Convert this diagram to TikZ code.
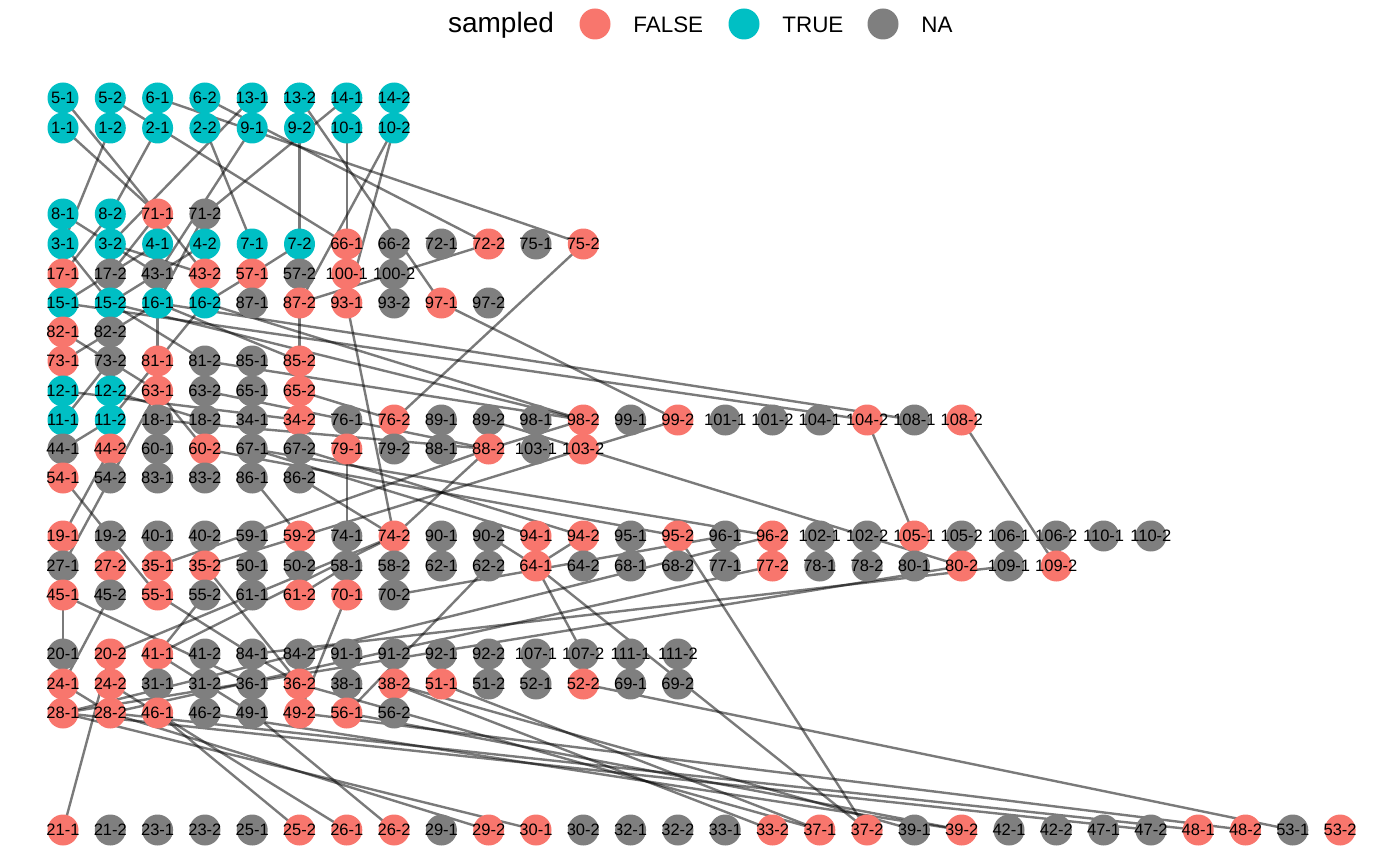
\documentclass[tikz,border=0pt]{standalone}
\usepackage{fontspec}
\setmainfont{Liberation Sans}
\definecolor{cT}{HTML}{00BFC4}
\definecolor{cF}{HTML}{F8766D}
\definecolor{cN}{HTML}{7F7F7F}
\pgfdeclarelayer{edges}
\pgfdeclarelayer{labels}
\pgfsetlayers{edges,main,labels}
\tikzset{
  dot/.style={circle,draw=none,minimum size=15.5pt,inner sep=0pt},
  lab/.style={font=\fontsize{8.25}{9}\selectfont,inner sep=0pt},
  edge/.style={draw=black,draw opacity=0.52,line width=1.2pt},
  legtitle/.style={font=\fontsize{14}{16}\selectfont,inner sep=0pt},
  legtext/.style={font=\fontsize{11.2}{13}\selectfont,inner sep=0pt,anchor=west},
}
\newcommand{\hrow}[2]{%
  \foreach \n/\c [count=\i from 0] in {#2} {%
    \node[dot,fill=c\c] (n\n) at ({63+47.3*\i},#1) {};
    \begin{pgfonlayer}{labels}\node[lab] (l\n) at (n\n) {\n};\end{pgfonlayer}
  }%
}
\begin{document}
\begin{tikzpicture}[x=0.5pt,y=-0.5pt]
\useasboundingbox (0,0) rectangle (1400,866);
% legend
\node[legtitle] (legt) at (501,25) {sampled};
\node[dot,fill=cF] (legF) at (595,24) {};
\node[legtext] (legFt) at (633,25) {FALSE};
\node[dot,fill=cT] (legT) at (744,24) {};
\node[legtext] (legTt) at (782,25) {TRUE};
\node[dot,fill=cN] (legN) at (883,24) {};
\node[legtext] (legNt) at (921,25) {NA};
% nodes
\hrow{98}{5-1/T,5-2/T,6-1/T,6-2/T,13-1/T,13-2/T,14-1/T,14-2/T}
\hrow{128}{1-1/T,1-2/T,2-1/T,2-2/T,9-1/T,9-2/T,10-1/T,10-2/T}
\hrow{214}{8-1/T,8-2/T,71-1/F,71-2/N}
\hrow{244}{3-1/T,3-2/T,4-1/T,4-2/T,7-1/T,7-2/T,66-1/F,66-2/N,72-1/N,72-2/F,75-1/N,75-2/F}
\hrow{274}{17-1/F,17-2/N,43-1/N,43-2/F,57-1/F,57-2/N,100-1/F,100-2/N}
\hrow{303}{15-1/T,15-2/T,16-1/T,16-2/T,87-1/N,87-2/F,93-1/F,93-2/N,97-1/F,97-2/N}
\hrow{332}{82-1/F,82-2/N}
\hrow{361}{73-1/F,73-2/N,81-1/F,81-2/N,85-1/N,85-2/F}
\hrow{391}{12-1/T,12-2/T,63-1/F,63-2/N,65-1/N,65-2/F}
\hrow{420}{11-1/T,11-2/T,18-1/N,18-2/N,34-1/N,34-2/F,76-1/N,76-2/F,89-1/N,89-2/N,98-1/N,98-2/F,99-1/N,99-2/F,101-1/N,101-2/N,104-1/N,104-2/F,108-1/N,108-2/F}
\hrow{449}{44-1/N,44-2/F,60-1/N,60-2/F,67-1/N,67-2/N,79-1/F,79-2/N,88-1/N,88-2/F,103-1/N,103-2/F}
\hrow{478}{54-1/F,54-2/N,83-1/N,83-2/N,86-1/N,86-2/N}
\hrow{536}{19-1/F,19-2/N,40-1/N,40-2/N,59-1/N,59-2/F,74-1/N,74-2/F,90-1/N,90-2/N,94-1/F,94-2/F,95-1/N,95-2/F,96-1/N,96-2/F,102-1/N,102-2/N,105-1/F,105-2/N,106-1/N,106-2/N,110-1/N,110-2/N}
\hrow{566}{27-1/N,27-2/F,35-1/F,35-2/F,50-1/N,50-2/N,58-1/N,58-2/N,62-1/N,62-2/N,64-1/F,64-2/N,68-1/N,68-2/N,77-1/N,77-2/F,78-1/N,78-2/N,80-1/N,80-2/F,109-1/N,109-2/F}
\hrow{595}{45-1/F,45-2/N,55-1/F,55-2/N,61-1/N,61-2/F,70-1/F,70-2/N}
\hrow{654}{20-1/N,20-2/F,41-1/F,41-2/N,84-1/N,84-2/N,91-1/N,91-2/N,92-1/N,92-2/N,107-1/N,107-2/N,111-1/N,111-2/N}
\hrow{684}{24-1/F,24-2/F,31-1/N,31-2/N,36-1/N,36-2/F,38-1/N,38-2/F,51-1/F,51-2/N,52-1/N,52-2/F,69-1/N,69-2/N}
\hrow{713}{28-1/F,28-2/F,46-1/F,46-2/N,49-1/N,49-2/F,56-1/F,56-2/N}
\hrow{830}{21-1/F,21-2/N,23-1/N,23-2/N,25-1/N,25-2/F,26-1/F,26-2/F,29-1/N,29-2/F,30-1/F,30-2/N,32-1/N,32-2/N,33-1/N,33-2/F,37-1/F,37-2/F,39-1/N,39-2/F,42-1/N,42-2/N,47-1/N,47-2/N,48-1/F,48-2/F,53-1/N,53-2/F}
% edges
\begin{pgfonlayer}{edges}
\foreach \a/\b in {5-1/71-1, 1-1/71-1, 5-2/66-1, 6-1/75-2, 6-2/72-2, 13-1/3-2, 13-2/97-1,
 14-1/71-2, 9-1/43-1, 9-2/7-2, 10-1/66-1, 10-2/87-2, 10-2/93-1, 2-2/7-1,
 2-1/8-2, 1-2/3-1,
 7-2/57-1, 72-2/87-2, 71-1/43-2, 8-1/43-1, 8-2/17-1, 71-2/16-1, 71-1/17-2,
 3-1/15-2, 4-2/15-2, 57-1/16-2, 3-2/43-2, 4-1/15-1,
 16-2/81-1, 43-1/81-1, 15-2/81-2, 16-1/85-2, 87-2/65-2, 82-1/63-1,
 73-1/16-1, 73-2/11-1, 12-2/18-2, 11-2/81-1, 17-1/73-1,
 15-1/104-2, 16-1/108-1, 15-2/98-2, 16-2/98-2, 81-2/98-2, 63-1/27-1, 12-1/34-2,
 44-1/11-2, 63-2/88-2, 18-1/88-2, 34-2/85-2, 65-2/76-2, 89-2/103-2, 63-1/60-2,
 98-2/88-2, 99-2/103-2, 104-2/105-1, 108-2/109-2, 103-2/80-2, 97-1/99-2,
 75-2/76-2, 93-1/74-2, 79-1/74-1, 88-2/74-2, 88-2/35-1, 103-2/35-2,
 67-1/94-1, 67-1/96-2, 67-2/94-2, 60-2/95-2, 86-1/59-2, 86-2/74-2,
 54-1/55-1, 44-2/19-1, 45-1/20-1, 45-1/36-1, 45-2/24-1, 55-1/36-2,
 55-2/41-1, 35-2/36-2, 70-1/49-2, 20-2/74-2, 41-1/74-2, 64-1/107-2,
 64-1/37-2, 95-2/37-2, 52-2/53-1, 62-2/56-1, 90-2/64-1, 94-2/64-1, 70-2/96-1,
 38-2/33-2, 20-2/21-1, 46-1/25-2, 24-2/26-1, 24-1/28-2, 49-1/26-2, 28-2/29-2,
 28-1/30-1, 51-1/37-1, 38-2/39-1, 36-2/37-1, 41-1/49-1, 84-1/109-1, 28-2/77-2, 28-1/96-2,
 28-1/80-2, 28-2/48-1, 28-1/47-2, 46-2/39-2, 56-1/39-2, 49-2/48-2, 61-2/58-1}{\draw[edge] (n\a.center) -- (n\b.center);}
\end{pgfonlayer}
\end{tikzpicture}
\end{document}
